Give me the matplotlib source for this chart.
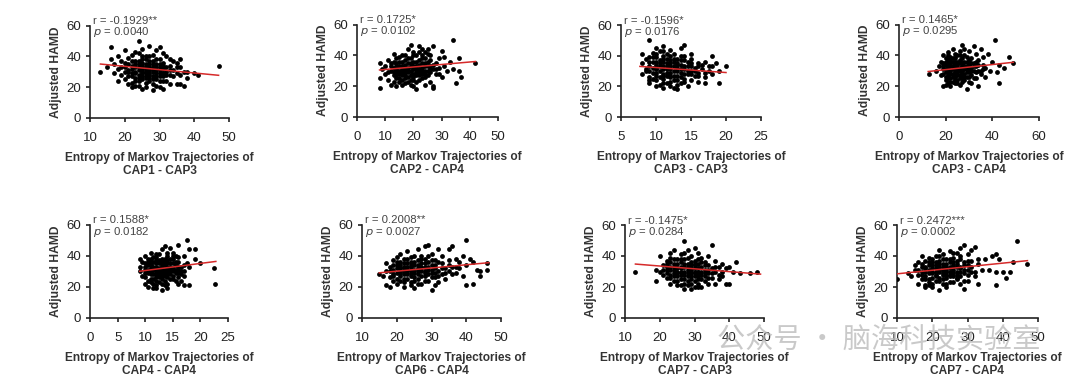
import numpy as np
import matplotlib
matplotlib.use("Agg")
import matplotlib.pyplot as plt

plt.rcParams.update({
    'font.family': ['Liberation Sans', 'DejaVu Sans'],
    'axes.linewidth': 1.2,
    'xtick.major.width': 1.2,
    'ytick.major.width': 1.2,
    'xtick.major.size': 3,
    'ytick.major.size': 3,
    'xtick.labelsize': 9.5,
    'ytick.labelsize': 9.5,
})

# scatter points, (entropy, adjusted HAMD)
cap1_cap3 = np.array([
    (13, 30), (15, 33), (16, 38), (16, 46), (17, 35), (18, 24), (18, 40), (19, 33), (19, 28), (20, 44),
    (20, 36), (20, 25), (21, 31), (21, 39), (21, 22), (22, 34), (22, 29), (22, 41), (22, 20), (23, 33),
    (23, 37), (23, 26), (23, 30), (24, 50), (24, 35), (24, 28), (24, 24), (24, 42), (25, 32), (25, 30),
    (25, 27), (25, 36), (25, 19), (25, 45), (26, 29), (26, 33), (26, 38), (26, 23), (26, 31), (27, 47),
    (27, 28), (27, 35), (27, 26), (27, 40), (28, 30), (28, 33), (28, 22), (28, 37), (28, 27), (29, 31),
    (29, 44), (29, 25), (29, 35), (30, 29), (30, 46), (30, 33), (30, 20), (30, 38), (31, 27), (31, 32),
    (31, 36), (32, 30), (32, 24), (32, 40), (33, 34), (33, 28), (33, 22), (34, 31), (34, 37), (35, 29),
    (35, 22), (36, 33), (36, 38), (36, 22), (37, 21), (37, 30), (38, 30), (38, 26), (40, 29), (41, 28),
    (47, 34), (19, 37), (21, 27), (23, 21), (26, 26), (28, 41), (31, 42), (24, 31), (27, 31), (29, 29),
    (22, 37), (20, 30), (18, 32), (17, 29), (26, 20), (30, 24), (33, 38), (35, 33), (25, 40), (28, 18),
    (23, 43), (31, 19),
    (20, 33), (21, 35), (21, 30), (22, 27), (22, 32), (23, 35), (23, 29), (23, 24), (24, 33), (24, 37),
    (24, 26), (25, 34), (25, 29), (25, 25), (25, 38), (26, 35), (26, 30), (26, 27), (27, 33), (27, 29),
    (27, 24), (27, 37), (28, 35), (28, 31), (28, 25), (29, 33), (29, 27), (29, 38), (30, 31), (30, 35),
    (30, 27), (31, 34), (31, 29), (31, 24), (32, 33), (32, 28), (33, 31), (34, 27), (35, 36), (36, 28),
    (22, 23), (24, 21), (26, 40), (29, 21)])

cap2_cap4 = np.array([
    (8, 35), (8, 19), (8, 25), (9, 31), (10, 28), (10, 33), (11, 24), (11, 37), (12, 30), (12, 21),
    (12, 35), (13, 27), (13, 41), (13, 32), (14, 29), (14, 25), (14, 38), (14, 20), (15, 33), (15, 30),
    (15, 23), (16, 36), (16, 27), (16, 31), (16, 40), (17, 25), (17, 34), (17, 22), (17, 29), (18, 32),
    (18, 38), (18, 26), (18, 44), (19, 47), (19, 30), (19, 21), (19, 35), (20, 28), (20, 33), (20, 24),
    (20, 40), (21, 31), (21, 18), (21, 36), (21, 27), (22, 46), (22, 34), (22, 29), (22, 42), (23, 25),
    (23, 32), (23, 38), (23, 44), (24, 30), (24, 21), (24, 35), (25, 41), (25, 27), (25, 33), (26, 29),
    (26, 37), (26, 23), (27, 46), (27, 31), (27, 19), (27, 20), (28, 35), (28, 28), (29, 38), (29, 32),
    (30, 26), (31, 33), (32, 30), (33, 36), (34, 50), (34, 31), (35, 22), (36, 38), (36, 30), (37, 26),
    (42, 35), (15, 36), (13, 23), (19, 27), (21, 40), (24, 26), (17, 37), (11, 29), (23, 28), (20, 36),
    (25, 44), (16, 21), (22, 24), (18, 29), (26, 33), (14, 33), (29, 28), (30, 43), (31, 39),
    (12, 33), (13, 29), (13, 36), (14, 31), (14, 35), (14, 27), (15, 28), (15, 39), (15, 25), (16, 33),
    (16, 29), (16, 24), (17, 31), (17, 27), (17, 40), (18, 35), (18, 30), (18, 23), (19, 33), (19, 38),
    (19, 24), (20, 31), (20, 26), (20, 42), (21, 33), (21, 29), (21, 23), (22, 31), (22, 37), (22, 27),
    (23, 30), (23, 35), (23, 40), (24, 33), (24, 28), (24, 42), (25, 30), (25, 36), (26, 31), (26, 40),
    (27, 34), (28, 31), (24, 38), (20, 20)])

cap3_cap3 = np.array([
    (8, 28), (8, 35), (8, 41), (8.5, 31), (8.5, 38), (9, 50), (9, 26), (9, 33), (9, 22), (9.5, 36),
    (9.5, 29), (9.5, 42), (10, 31), (10, 24), (10, 39), (10, 27), (10, 34), (10.5, 21), (10.5, 37), (10.5, 30),
    (10.5, 43), (11, 28), (11, 33), (11, 46), (11, 25), (11, 40), (11.5, 35), (11.5, 22), (11.5, 31), (11.5, 38),
    (12, 29), (12, 44), (12, 26), (12, 33), (12, 20), (12.5, 36), (12.5, 30), (12.5, 41), (12.5, 24), (13, 32),
    (13, 27), (13, 38), (13, 18), (13.5, 34), (13.5, 29), (13.5, 22), (13.5, 45), (14, 47), (14, 31), (14, 25),
    (14, 37), (14.5, 28), (14.5, 33), (14.5, 20), (15, 35), (15, 30), (15, 24), (15, 41), (15.5, 27), (15.5, 32),
    (16, 29), (16, 35), (16, 23), (16.5, 31), (17, 26), (17, 36), (17, 22), (17.5, 30), (18, 40), (18, 28),
    (18, 33), (18.5, 35), (19, 22), (19, 30), (20, 33), (9, 39), (10, 45), (11, 19), (12, 37), (13, 24),
    (14, 40), (10.5, 33), (9.5, 25), (12, 23), (13, 35), (11, 36), (8.5, 30), (14, 28), (12.5, 19), (15, 38),
    (10, 20), (16, 33), (11.5, 27), (13.5, 40),
    (9, 30), (9, 36), (9.5, 32), (9.5, 39), (10, 29), (10, 36), (10, 41), (10.5, 26), (10.5, 35), (11, 31),
    (11, 27), (11, 38), (11, 22), (11.5, 33), (11.5, 29), (11.5, 41), (12, 31), (12, 35), (12, 27), (12.5, 33),
    (12.5, 27), (12.5, 38), (13, 30), (13, 34), (13, 21), (13.5, 31), (13.5, 26), (13.5, 37), (14, 33), (14, 23),
    (14.5, 30), (14.5, 36), (15, 28), (15, 33), (15.5, 30), (16, 27), (16.5, 34), (17, 29), (17.5, 33), (9, 24),
    (10, 32), (12, 40), (11, 43)])

cap3_cap4 = np.array([
    (13, 28), (16, 30), (17, 33), (18, 27), (18, 36), (19, 20), (19, 31), (19, 40), (20, 24), (20, 34),
    (20, 29), (20, 38), (21, 22), (21, 32), (21, 42), (21, 27), (22, 35), (22, 30), (22, 25), (22, 20),
    (23, 33), (23, 38), (23, 28), (23, 44), (24, 31), (24, 26), (24, 36), (24, 22), (25, 34), (25, 29),
    (25, 40), (25, 24), (26, 32), (26, 37), (26, 27), (26, 21), (27, 47), (27, 35), (27, 30), (27, 25),
    (28, 33), (28, 40), (28, 28), (28, 44), (29, 18), (29, 31), (29, 36), (29, 26), (30, 34), (30, 29),
    (30, 43), (30, 23), (31, 38), (31, 32), (31, 27), (32, 35), (32, 46), (32, 30), (33, 41), (33, 25),
    (33, 33), (34, 20), (34, 37), (34, 30), (35, 44), (35, 28), (36, 34), (36, 39), (37, 32), (37, 26),
    (38, 41), (39, 30), (40, 36), (41, 50), (42, 29), (43, 22), (43, 34), (45, 32), (47, 39), (49, 35),
    (24, 41), (22, 39), (26, 43), (21, 37), (23, 23), (25, 31), (27, 28), (29, 33), (31, 22), (20, 26),
    (19, 35), (30, 37), (28, 24), (33, 36), (35, 30), (24, 29),
    (19, 28), (19, 33), (20, 31), (20, 36), (20, 21), (21, 30), (21, 35), (21, 25), (22, 33), (22, 28),
    (22, 37), (22, 23), (23, 31), (23, 36), (23, 26), (24, 34), (24, 28), (24, 24), (24, 38), (25, 32),
    (25, 27), (25, 36), (26, 30), (26, 35), (26, 25), (26, 40), (27, 33), (27, 38), (27, 23), (28, 31),
    (28, 36), (28, 26), (29, 29), (29, 39), (30, 32), (30, 26), (31, 35), (31, 30), (32, 33), (32, 25),
    (33, 29), (34, 34), (36, 31), (21, 40), (25, 22)])

cap4_cap4 = np.array([
    (9, 30), (9, 33), (9, 38), (9.5, 27), (9.5, 36), (10, 22), (10, 31), (10, 40), (10, 26), (10.5, 34),
    (10.5, 29), (10.5, 38), (10.5, 20), (11, 32), (11, 25), (11, 36), (11, 42), (11.5, 28), (11.5, 33), (11.5, 22),
    (11.5, 39), (12, 30), (12, 35), (12, 26), (12, 41), (12, 19), (12.5, 32), (12.5, 37), (12.5, 28), (12.5, 23),
    (13, 34), (13, 29), (13, 44), (13, 18), (13, 25), (13.5, 31), (13.5, 38), (13.5, 27), (13.5, 46), (14, 33),
    (14, 28), (14, 40), (14, 22), (14.5, 35), (14.5, 30), (14.5, 45), (14.5, 25), (15, 32), (15, 38), (15, 27),
    (15, 42), (15.5, 34), (15.5, 29), (15.5, 24), (16, 36), (16, 31), (16, 22), (16, 47), (16.5, 33), (16.5, 28),
    (17, 40), (17, 21), (17, 30), (17.5, 50), (17.5, 35), (18, 44), (18, 21), (18, 33), (19, 44), (19, 38),
    (20, 35), (22.5, 32), (22.7, 22), (11, 30), (12, 33), (13, 36), (14, 31), (10, 35), (12.5, 41), (11.5, 19),
    (13.5, 21), (14, 37), (15, 35), (13, 31), (12, 28), (14.5, 32), (11, 38), (16, 26), (10.5, 24), (15.5, 40),
    (12, 37), (13.5, 34),
    (10, 29), (10, 33), (10.5, 31), (10.5, 36), (11, 28), (11, 34), (11, 23), (11.5, 31), (11.5, 36), (11.5, 25),
    (12, 32), (12, 24), (12, 39), (12.5, 30), (12.5, 35), (12.5, 26), (13, 33), (13, 27), (13, 38), (13, 22),
    (13.5, 29), (13.5, 36), (13.5, 24), (14, 30), (14, 35), (14, 26), (14, 42), (14.5, 28), (14.5, 33), (14.5, 38),
    (15, 30), (15, 25), (15, 40), (15.5, 31), (15.5, 36), (16, 29), (16, 33), (16, 39), (16.5, 30), (16.5, 24),
    (17, 34), (17, 27), (12, 21), (14, 19)])

cap6_cap4 = np.array([
    (15, 28), (16, 27), (17, 21), (17, 30), (17, 35), (18, 20), (18, 33), (18, 26), (19, 31), (19, 37),
    (19, 24), (20, 29), (20, 34), (20, 39), (20, 22), (21, 32), (21, 27), (21, 36), (21, 41), (22, 25),
    (22, 30), (22, 35), (22, 20), (23, 33), (23, 28), (23, 38), (23, 43), (24, 31), (24, 23), (24, 36),
    (24, 27), (25, 34), (25, 29), (25, 40), (25, 19), (26, 32), (26, 37), (26, 25), (26, 44), (27, 30),
    (27, 35), (27, 22), (27, 40), (28, 33), (28, 27), (28, 46), (28, 38), (29, 31), (29, 47), (29, 24),
    (29, 36), (30, 18), (30, 29), (30, 34), (30, 41), (31, 32), (31, 26), (31, 37), (32, 30), (32, 44),
    (32, 23), (33, 35), (33, 28), (33, 40), (34, 32), (34, 25), (35, 37), (35, 30), (35, 44), (36, 33),
    (36, 46), (37, 29), (37, 38), (38, 32), (39, 40), (39, 27), (40, 50), (40, 34), (40, 21), (41, 38),
    (42, 22), (42, 36), (43, 31), (44, 27), (44, 30), (46, 31), (46, 35), (23, 31), (25, 26), (27, 33),
    (21, 29), (19, 28), (24, 39), (26, 28), (28, 30), (30, 37), (22, 33), (31, 21),
    (18, 30), (19, 34), (19, 27), (20, 32), (20, 25), (20, 36), (21, 30), (21, 34), (21, 24), (22, 32),
    (22, 28), (22, 38), (22, 23), (23, 35), (23, 30), (23, 25), (24, 33), (24, 29), (24, 34), (24, 21),
    (25, 31), (25, 36), (25, 24), (26, 30), (26, 34), (26, 22), (27, 32), (27, 27), (27, 38), (28, 35),
    (28, 29), (28, 24), (29, 33), (29, 28), (29, 40), (30, 31), (30, 26), (31, 34), (31, 29), (32, 36),
    (32, 27), (33, 32), (34, 29), (35, 34), (36, 28), (38, 36), (37, 33)])

cap7_cap3 = np.array([
    (13, 30), (19, 24), (19, 31), (20, 40), (20, 30), (21, 28), (21, 34), (22, 26), (22, 37), (22, 31),
    (23, 22), (23, 42), (23, 33), (23, 28), (24, 35), (24, 29), (24, 44), (24, 24), (25, 32), (25, 38),
    (25, 27), (25, 21), (26, 30), (26, 36), (26, 41), (26, 25), (27, 50), (27, 33), (27, 28), (27, 19),
    (27, 38), (28, 31), (28, 35), (28, 24), (28, 44), (29, 29), (29, 34), (29, 40), (29, 22), (30, 32),
    (30, 27), (30, 37), (30, 45), (30, 20), (31, 30), (31, 35), (31, 25), (31, 42), (32, 33), (32, 28),
    (32, 39), (32, 20), (33, 31), (33, 36), (33, 24), (34, 34), (34, 29), (34, 40), (35, 47), (35, 32),
    (35, 26), (36, 37), (36, 30), (36, 22), (37, 33), (37, 28), (38, 35), (38, 30), (39, 22), (39, 32),
    (40, 22), (40, 33), (41, 30), (42, 36), (43, 29), (46, 29), (48, 30), (26, 33), (28, 27), (30, 29),
    (32, 36), (24, 31), (29, 25), (31, 38), (27, 35), (25, 29), (33, 27), (23, 36), (29, 31), (34, 22),
    (26, 21), (30, 34), (28, 39), (22, 33), (31, 27),
    (21, 31), (22, 29), (22, 35), (23, 31), (23, 26), (23, 39), (24, 33), (24, 27), (24, 38), (25, 30),
    (25, 35), (25, 24), (26, 32), (26, 28), (26, 38), (27, 30), (27, 25), (27, 42), (28, 33), (28, 29),
    (28, 21), (29, 36), (29, 27), (29, 32), (30, 30), (30, 35), (30, 24), (31, 32), (31, 28), (31, 22),
    (32, 30), (32, 25), (33, 34), (33, 29), (34, 31), (34, 26), (35, 29), (36, 33), (37, 25), (38, 27),
    (27, 22), (29, 19), (31, 20)])

cap7_cap4 = np.array([
    (10, 25), (13, 29), (14, 27), (15, 34), (15, 31), (16, 22), (16, 36), (16, 28), (17, 33), (17, 40),
    (17, 25), (18, 30), (18, 20), (18, 37), (18, 27), (19, 34), (19, 21), (19, 29), (19, 39), (20, 32),
    (20, 26), (20, 36), (20, 22), (21, 30), (21, 40), (21, 34), (21, 27), (22, 44), (22, 33), (22, 24),
    (22, 18), (22, 37), (23, 31), (23, 28), (23, 41), (23, 35), (24, 26), (24, 33), (24, 38), (24, 22),
    (25, 30), (25, 36), (25, 43), (25, 27), (26, 34), (26, 23), (26, 39), (26, 31), (27, 28), (27, 37),
    (27, 42), (27, 25), (28, 33), (28, 30), (28, 45), (28, 22), (29, 47), (29, 19), (29, 36), (29, 31),
    (30, 41), (30, 28), (30, 34), (31, 44), (31, 30), (31, 37), (32, 46), (32, 27), (33, 22), (33, 35),
    (34, 31), (35, 38), (36, 31), (37, 40), (38, 21), (38, 41), (38, 30), (39, 38), (40, 30), (41, 26),
    (42, 30), (43, 36), (44, 50), (47, 35), (17, 30), (19, 25), (21, 36), (23, 22), (24, 30), (26, 27),
    (28, 38), (20, 29), (22, 30), (25, 33), (27, 33), (30, 24), (18, 33), (23, 38), (26, 42),
    (16, 31), (17, 28), (17, 35), (18, 32), (18, 25), (19, 31), (19, 36), (19, 23), (20, 34), (20, 30),
    (20, 38), (21, 32), (21, 28), (21, 24), (22, 35), (22, 31), (22, 26), (22, 40), (23, 33), (23, 29),
    (23, 25), (24, 35), (24, 31), (24, 28), (25, 32), (25, 28), (25, 38), (25, 23), (26, 33), (26, 29),
    (26, 36), (27, 30), (27, 35), (27, 26), (28, 32), (28, 27), (28, 40), (29, 34), (29, 29), (29, 24),
    (30, 31), (30, 37), (31, 33), (32, 30), (33, 38), (18, 21), (20, 20), (24, 20)])

# fitted line ends (x0, x1) and (y0, y1)
fit_x = [(13, 47), (8, 42), (7.7, 20), (12.5, 49), (9, 22.8), (15, 46.5), (13, 49), (10, 47)]
fit_y = [(35, 27.7), (30.5, 36), (33, 29), (29.5, 35.5), (30, 36.3), (29, 35.5), (34.8, 28.3), (28.5, 37)]

r_labels = ['r = -0.1929**', 'r = 0.1725*', 'r = -0.1596*', 'r = 0.1465*',
            'r = 0.1588*', 'r = 0.2008**', 'r = -0.1475*', 'r = 0.2472***']
p_values = ['0.0040', '0.0102', '0.0176', '0.0295', '0.0182', '0.0027', '0.0284', '0.0002']
pair_names = ['CAP1 - CAP3', 'CAP2 - CAP4', 'CAP3 - CAP3', 'CAP3 - CAP4',
              'CAP4 - CAP4', 'CAP6 - CAP4', 'CAP7 - CAP3', 'CAP7 - CAP4']
x_ticks = [range(10, 51, 10), range(0, 51, 10), range(5, 26, 5), range(0, 61, 20),
           range(0, 26, 5), range(10, 51, 10), range(10, 51, 10), range(10, 51, 10)]
y_ticks = [0, 20, 40, 60]

points = [cap1_cap3, cap2_cap4, cap3_cap3, cap3_cap4, cap4_cap4, cap6_cap4, cap7_cap3, cap7_cap4]

# axes boxes in pixels (left, right, top, bottom) of the 1080x383 picture
W, H = 1080, 383
boxes = [(90, 229, 25.5, 118), (357, 498, 24.5, 117), (621, 761, 25, 117), (899, 1039, 24.5, 117),
         (90, 228, 224.5, 318), (362, 501, 224.5, 318), (625, 764, 225, 318), (897, 1038, 225, 318)]

fig = plt.figure(figsize=(W / 100, H / 100), dpi=100)

for i in range(8):
    l, r, t, b = boxes[i]
    ax = fig.add_axes([l / W, 1 - b / H, (r - l) / W, (b - t) / H])
    pts = points[i]
    ax.scatter(pts[:, 0], pts[:, 1], s=12, color='black', linewidths=0, zorder=3)
    ax.plot(fit_x[i], fit_y[i], color='#d62a2a', lw=1.1, zorder=4)

    xt = list(x_ticks[i])
    ax.set_xlim(xt[0], xt[-1])
    ax.set_ylim(0, 60)
    ax.set_xticks(xt)
    ax.set_yticks(y_ticks)
    ax.tick_params(colors='#222222')
    ax.tick_params(axis='x', pad=7)
    ax.tick_params(axis='y', pad=3.5)
    for side in ['top', 'right']:
        ax.spines[side].set_visible(False)
    for side in ['left', 'bottom']:
        ax.spines[side].set_color('#222222')

    ax.set_ylabel('Adjusted HAMD', fontsize=8.7, fontweight='bold', color='#333333', labelpad=3)
    ax.set_xlabel('Entropy of Markov Trajectories of\n' + pair_names[i], fontsize=8.6,
                  fontweight='bold', color='#333333', labelpad=6, linespacing=1.08)

    ax.text(0.02, 1.045, r_labels[i], transform=ax.transAxes, fontsize=8.2,
            color='#444444', va='center', ha='left', clip_on=False)
    ax.text(0.02, 0.925, r'$\it{p}$ = ' + p_values[i], transform=ax.transAxes, fontsize=8.2,
            color='#444444', va='center', ha='left', clip_on=False)

# watermark across the bottom right
fig.text(717 / W, 1 - 340 / H, '公众号 · 脑海科技实验室', fontsize=20.3,
         family=['Noto Sans CJK SC', 'DejaVu Sans'], color='#b8b8b8', alpha=0.75,
         ha='left', va='center', zorder=10)

fig.savefig('out.png', dpi=100, facecolor='white')
